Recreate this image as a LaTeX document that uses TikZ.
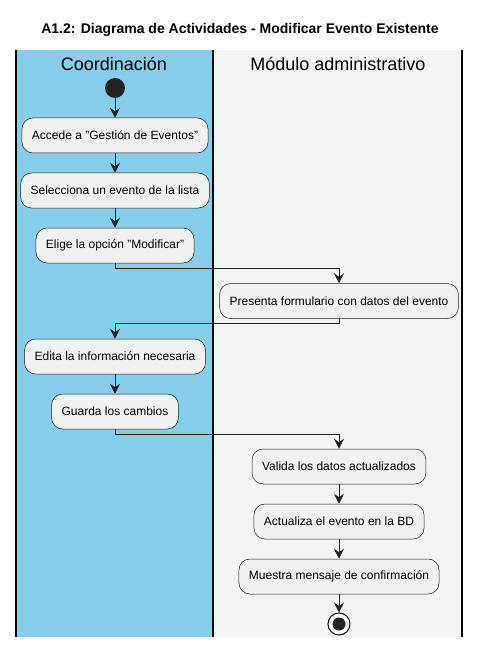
\documentclass[tikz,border=0pt]{standalone}
\usepackage{fontspec}
\setmainfont{Liberation Sans}
\usetikzlibrary{arrows.meta}
\definecolor{lanea}{HTML}{87CEEB}
\definecolor{laneb}{HTML}{F4F4F4}
\definecolor{actfill}{HTML}{F1F1F1}
\definecolor{actline}{HTML}{181818}
\definecolor{dark}{HTML}{222222}
\begin{document}
\begin{tikzpicture}[x=1pt,y=-1pt,
  act/.style={draw=actline, line width=0.5pt, fill=actfill, rounded corners=11pt,
    minimum height=35pt, inner xsep=10pt, font=\fontsize{12}{14}\selectfont, text=black},
  flow/.style={draw=dark, line width=1pt, -{Stealth[length=10pt,width=10pt,inset=3.5pt]}},
  lanehdr/.style={font=\fontsize{18}{21}\selectfont}]
\useasboundingbox (0,0) rectangle (481,647);
\fill[white] (0,0) rectangle (481,647);
% lanes
\fill[lanea] (16,50) rectangle (213,637);
\fill[laneb] (213,50) rectangle (462,637);
\draw[line width=1.3pt] (16,50) -- (16,637);
\draw[line width=1.3pt] (213,50) -- (213,637);
\draw[line width=1.3pt] (462,50) -- (462,637);
% title
\node[font=\bfseries\fontsize{14}{17}\selectfont] (title) at (240,30) {A1.2: Diagrama de Actividades - Modificar Evento Existente};
\node[lanehdr] (h1) at (114,64) {Coordinación};
\node[lanehdr] (h2) at (338,64) {Módulo administrativo};
% nodes
\node[circle, fill=dark, minimum size=20pt, inner sep=0] (start) at (115,88) {};
\node[act] (a1) at (115,135.5) {Accede a "Gestión de Eventos"};
\node[act] (a2) at (115,190.5) {Selecciona un evento de la lista};
\node[act] (a3) at (115,245.5) {Elige la opción "Modificar"};
\node[act] (a4) at (339,301) {Presenta formulario con datos del evento};
\node[act] (a5) at (115,356.5) {Edita la información necesaria};
\node[act] (a6) at (115,411.5) {Guarda los cambios};
\node[act] (a7) at (339,466.5) {Valida los datos actualizados};
\node[act] (a8) at (339,521.5) {Actualiza el evento en la BD};
\node[act] (a9) at (339,576.5) {Muestra mensaje de confirmación};
\node[circle, draw=black, line width=1pt, fill=white, minimum size=22pt, inner sep=0] (stop) at (339,624) {};
\node[circle, fill=dark, minimum size=13pt, inner sep=0] at (stop.center) {};
% flows
\draw[flow] (start) -- (a1);
\draw[flow] (a1) -- (a2);
\draw[flow] (a2) -- (a3);
\draw[flow] (a3.south) -- ++(0,5) -| (a4.north);
\draw[flow] (a4.south) -- ++(0,5) -| (a5.north);
\draw[flow] (a5) -- (a6);
\draw[flow] (a6.south) -- ++(0,5) -| (a7.north);
\draw[flow] (a7) -- (a8);
\draw[flow] (a8) -- (a9);
\draw[flow] (a9) -- (stop);
\end{tikzpicture}
\end{document}
